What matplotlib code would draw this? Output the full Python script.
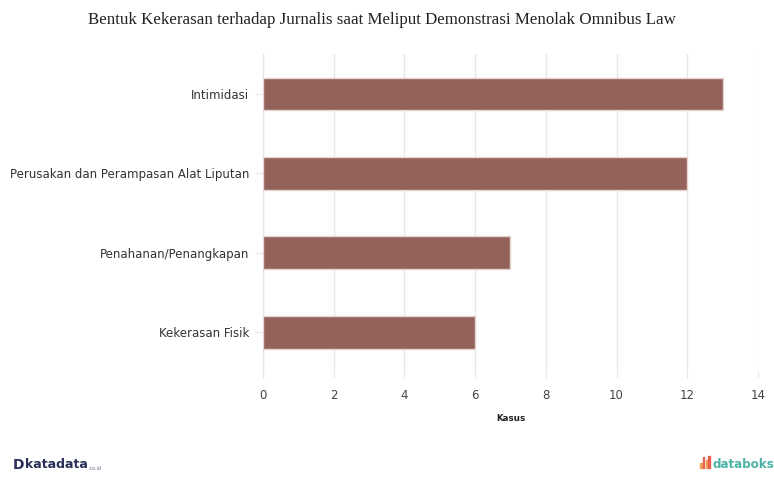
import matplotlib
matplotlib.use("Agg")
import matplotlib.pyplot as plt
from matplotlib.patches import Rectangle

plt.rcParams["font.family"] = ["DejaVu Sans"]

categories = [
    "Intimidasi",
    "Perusakan dan Perampasan Alat Liputan",
    "Penahanan/Penangkapan",
    "Kekerasan Fisik",
]
kasus = [13, 12, 7, 6]
xticks = [0, 2, 4, 6, 8, 10, 12, 14]

title = "Bentuk Kekerasan terhadap Jurnalis saat Meliput Demonstrasi Menolak Omnibus Law"

fig = plt.figure(figsize=(7.74, 4.78), dpi=100)
ax = fig.add_axes([0.3398, 0.2218, 0.6395, 0.665])

ypos = list(range(len(categories)))
ax.barh(ypos, kasus, height=0.41, color="#93625a", edgecolor="#e9d3d0",
        linewidth=1.0, zorder=3)

ax.set_xlim(0, 14)
ax.set_ylim(3.5, -0.5)
ax.set_xticks(xticks)
ax.set_xticklabels([str(t) for t in xticks])
ax.set_yticks(ypos)
ax.set_yticklabels(categories)

ax.grid(axis="x", color="#e6e6e6", linewidth=0.9, zorder=0)
for side in ("top", "right", "bottom"):
    ax.spines[side].set_visible(False)
ax.spines["left"].set_color("#e6e6e6")
ax.spines["left"].set_linewidth(0.9)

ax.tick_params(axis="x", length=4, color="#e6e6e6", labelsize=8.5,
               labelcolor="#444444", pad=8)
ax.tick_params(axis="y", length=6, color="#e6e6e6", labelsize=8.5,
               labelcolor="#333333", pad=4)

ax.set_xlabel("Kasus", fontsize=6.3, fontweight="bold", color="#222222",
              labelpad=9)

fig.text(0.4935, 0.958, title, ha="center", va="center",
         family="Liberation Serif", fontsize=12.2, color="#222222")

# footer branding
fig.text(0.017, 0.013, "D", ha="left", va="bottom", fontsize=10,
         fontweight="bold", color="#2b2f5a")
fig.text(0.032, 0.014, "katadata", ha="left", va="bottom", fontsize=9,
         fontweight="bold", color="#2b2f5a")
fig.text(0.1145, 0.015, ".co.id", ha="left", va="bottom", fontsize=3.5,
         color="#6a6e8a")

icon_x = [0.9045, 0.9080, 0.9115, 0.9150]
icon_h = [0.012, 0.024, 0.018, 0.026]
icon_c = ["#f0a15a", "#e8604c", "#f0a15a", "#e8604c"]
for x, h, c in zip(icon_x, icon_h, icon_c):
    fig.patches.append(Rectangle((x, 0.020), 0.0022, h, transform=fig.transFigure,
                                 color=c, figure=fig))
fig.text(0.920, 0.014, "databoks", ha="left", va="bottom", fontsize=8.6,
         fontweight="bold", color="#4cb3a6")

fig.savefig("out.png", dpi=100, facecolor="white")
